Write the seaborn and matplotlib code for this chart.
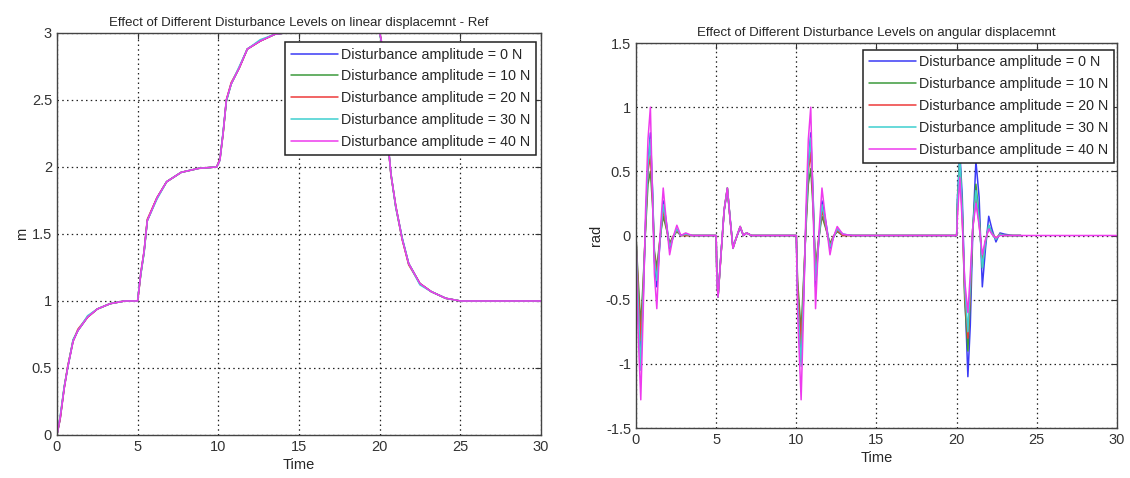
import matplotlib
matplotlib.use("Agg")
import matplotlib.pyplot as plt
import numpy as np
import pandas as pd
import seaborn as sns

# ---- data ----
series_names = [
    "Disturbance amplitude = 0 N",
    "Disturbance amplitude = 10 N",
    "Disturbance amplitude = 20 N",
    "Disturbance amplitude = 30 N",
    "Disturbance amplitude = 40 N",
]
colors = ["#3b3bf5", "#3c9a3c", "#ee3a3a", "#3fd0d0", "#ee3aee"]

# linear displacement (m)
lin_time = [0, 0.2, 0.45, 0.66, 1.0, 1.3, 1.9, 2.5, 3.3, 4.2, 5.0, 5.1, 5.2, 5.4, 5.6,
            6.2, 6.8, 7.7, 8.8, 9.9, 10.1, 10.3, 10.5, 10.8, 11.3, 11.8, 12.6, 13.5, 14.1,
            17.0, 20.0, 20.1, 20.3, 20.5, 20.7, 21.0, 21.4, 21.8, 22.5, 23.2, 24.1, 25.0,
            27.5, 30.0]
lin_0 = [0, 0.12, 0.35, 0.50, 0.70, 0.78, 0.88, 0.94, 0.98, 1.0, 1.0, 1.11, 1.21, 1.37, 1.60,
         1.77, 1.89, 1.96, 1.99, 2.0, 2.06, 2.26, 2.50, 2.62, 2.74, 2.88, 2.94, 2.99, 3.0,
         3.0, 3.0, 2.95, 2.60, 2.21, 1.95, 1.71, 1.47, 1.28, 1.13, 1.07, 1.02, 1.0, 1.0, 1.0]
lin_10 = [0, 0.13, 0.36, 0.50, 0.71, 0.78, 0.88, 0.94, 0.98, 1.0, 1.0, 1.10, 1.20, 1.36, 1.60,
          1.77, 1.89, 1.96, 1.99, 2.0, 2.05, 2.25, 2.49, 2.62, 2.74, 2.88, 2.94, 2.99, 3.0,
          3.0, 3.0, 2.94, 2.60, 2.20, 1.95, 1.70, 1.46, 1.28, 1.13, 1.07, 1.02, 1.0, 1.0, 1.0]
lin_20 = [0, 0.12, 0.35, 0.51, 0.70, 0.79, 0.88, 0.94, 0.98, 1.0, 1.0, 1.10, 1.21, 1.37, 1.61,
          1.77, 1.89, 1.96, 1.99, 2.0, 2.06, 2.25, 2.50, 2.63, 2.74, 2.88, 2.94, 2.99, 3.0,
          3.0, 3.0, 2.95, 2.59, 2.21, 1.94, 1.71, 1.46, 1.27, 1.13, 1.07, 1.02, 1.0, 1.0, 1.0]
lin_30 = [0, 0.14, 0.36, 0.50, 0.71, 0.78, 0.89, 0.94, 0.98, 1.0, 1.0, 1.11, 1.20, 1.36, 1.60,
          1.76, 1.89, 1.96, 1.99, 2.0, 2.05, 2.26, 2.49, 2.62, 2.75, 2.88, 2.95, 2.99, 3.0,
          3.0, 3.0, 2.94, 2.61, 2.20, 1.95, 1.70, 1.47, 1.28, 1.12, 1.07, 1.02, 1.0, 1.0, 1.0]
lin_40 = [0, 0.13, 0.35, 0.50, 0.70, 0.78, 0.88, 0.94, 0.98, 1.0, 1.0, 1.10, 1.21, 1.37, 1.60,
          1.77, 1.89, 1.96, 1.99, 2.0, 2.05, 2.25, 2.50, 2.62, 2.74, 2.88, 2.94, 2.99, 3.0,
          3.0, 3.0, 2.95, 2.60, 2.21, 1.95, 1.71, 1.46, 1.28, 1.13, 1.07, 1.02, 1.0, 1.0, 1.0]

# angular displacement (rad)
ang_time = [0, 0.12, 0.3, 0.45, 0.6, 0.75, 0.9, 1.05, 1.15, 1.3, 1.5, 1.7, 1.9, 2.1, 2.3,
            2.55, 2.8, 3.1, 3.5,
            5.0, 5.05, 5.12, 5.3, 5.5, 5.7, 5.88, 6.05, 6.25, 6.5, 6.7, 6.9, 7.2, 7.6,
            10.0, 10.08, 10.3, 10.45, 10.6, 10.75, 10.9, 11.05, 11.2, 11.4, 11.6, 11.85, 12.1,
            12.3, 12.55, 12.9, 13.5,
            20.0, 20.05, 20.2, 20.35, 20.5, 20.7, 20.85, 21.0, 21.2, 21.4, 21.6, 21.8, 22.0,
            22.2, 22.45, 22.7, 23.0, 23.5, 24.0, 30.0]
ang_0 = [0, -0.40, -0.95, -0.50, 0.10, 0.55, 0.80, 0.30, -0.20, -0.40, -0.05, 0.27, 0.10, -0.10,
         -0.02, 0.05, 0.0, 0.01, 0,
         0, -0.34, -0.47, -0.15, 0.19, 0.36, 0.12, -0.09, -0.02, 0.06, 0.0, 0.02, 0, 0,
         0, -0.45, -0.98, -0.50, 0.10, 0.55, 0.80, 0.30, -0.40, -0.05, 0.27, 0.10, -0.10,
         -0.02, 0.05, 0.01, 0,
         0, 0.30, 0.65, 0.30, -0.40, -1.10, -0.70, 0.0, 0.58, 0.30, -0.40, -0.10, 0.15,
         0.05, -0.05, 0.02, 0.01, 0, 0, np.nan]
ang_10 = [0, -0.30, -0.70, -0.35, 0.05, 0.40, 0.50, 0.20, -0.12, -0.25, -0.02, 0.15, 0.05, -0.06,
          -0.01, 0.03, 0, 0, 0,
          0, -0.35, -0.48, -0.15, 0.20, 0.37, 0.12, -0.10, -0.02, 0.07, 0.0, 0.02, 0, 0,
          0, -0.35, -0.75, -0.35, 0.05, 0.40, 0.52, 0.20, -0.25, -0.02, 0.15, 0.05, -0.06,
          -0.01, 0.03, 0, 0,
          0, 0.25, 0.60, 0.20, -0.50, -0.90, -0.50, 0.05, 0.40, 0.15, -0.25, -0.05, 0.08,
          0.02, -0.03, 0.01, 0, 0, 0, np.nan]
ang_20 = [0, -0.35, -0.82, -0.40, 0.08, 0.50, 0.62, 0.25, -0.15, -0.30, -0.03, 0.20, 0.06, -0.08,
          -0.01, 0.04, 0, 0, 0,
          0, -0.35, -0.48, -0.16, 0.20, 0.37, 0.11, -0.10, -0.02, 0.07, 0.0, 0.02, 0, 0,
          0, -0.40, -0.85, -0.40, 0.08, 0.50, 0.65, 0.25, -0.30, -0.03, 0.20, 0.06, -0.08,
          -0.01, 0.04, 0, 0,
          0, 0.20, 0.55, 0.15, -0.45, -0.80, -0.45, 0.05, 0.30, 0.10, -0.20, -0.04, 0.06,
          0.02, -0.02, 0.01, 0, 0, 0, np.nan]
ang_30 = [0, -0.45, -1.05, -0.45, 0.10, 0.55, 0.75, 0.30, -0.18, -0.35, -0.04, 0.24, 0.08, -0.09,
          -0.02, 0.05, 0, 0.01, 0,
          0, -0.35, -0.48, -0.15, 0.20, 0.37, 0.12, -0.10, -0.02, 0.07, 0.0, 0.02, 0, 0,
          0, -0.48, -1.02, -0.45, 0.10, 0.55, 0.76, 0.30, -0.35, -0.04, 0.24, 0.08, -0.09,
          -0.02, 0.05, 0.01, 0,
          0, 0.25, 0.60, 0.20, -0.40, -0.75, -0.40, 0.05, 0.35, 0.12, -0.25, -0.05, 0.08,
          0.02, -0.03, 0.01, 0, 0, 0, np.nan]
ang_40 = [0, -0.70, -1.28, -0.60, 0.20, 0.75, 1.00, 0.20, -0.30, -0.57, 0.0, 0.37, 0.10, -0.15,
          -0.02, 0.08, 0.0, 0.02, 0.0,
          0, -0.35, -0.48, -0.15, 0.20, 0.37, 0.12, -0.10, -0.02, 0.07, 0.0, 0.02, 0, 0,
          0, -0.60, -1.28, -0.60, 0.20, 0.75, 1.00, 0.20, -0.57, 0.0, 0.37, 0.10, -0.15,
          -0.02, 0.07, 0.01, 0,
          0, 0.15, 0.45, 0.10, -0.35, -0.60, -0.30, 0.05, 0.25, 0.08, -0.15, -0.03, 0.05,
          0.01, -0.02, 0, 0, 0, 0, 0]

lin_values = [lin_0, lin_10, lin_20, lin_30, lin_40]
ang_values = [ang_0, ang_10, ang_20, ang_30, ang_40]


def long_frame(time, values):
    return pd.concat(
        [pd.DataFrame({"Time": time, "y": vals, "series": name})
         for name, vals in zip(series_names, values)],
        ignore_index=True,
    )


sns.set_style("white")
plt.rcParams["font.family"] = ["Liberation Sans", "DejaVu Sans"]
plt.rcParams.update({
    "xtick.direction": "in", "ytick.direction": "in",
    "xtick.top": True, "ytick.right": True,
    "xtick.major.size": 4, "ytick.major.size": 4,
    "xtick.color": "#333333", "ytick.color": "#333333",
    "xtick.labelsize": 10.5, "ytick.labelsize": 10.5,
})

fig = plt.figure(figsize=(11.3, 4.78), dpi=100)
ax_lin = fig.add_axes([0.0504, 0.090, 0.4283, 0.841])
ax_ang = fig.add_axes([0.5628, 0.1046, 0.4257, 0.8054])

palette = dict(zip(series_names, colors))
panels = [
    (ax_lin, long_frame(lin_time, lin_values), (0, 3), np.arange(0, 3.01, 0.5), "m",
     "Effect of Different Disturbance Levels on linear displacemnt - Ref", (0.996, 0.985)),
    (ax_ang, long_frame(ang_time, ang_values), (-1.5, 1.5), np.arange(-1.5, 1.51, 0.5), "rad",
     "Effect of Different Disturbance Levels on angular displacemnt", (1.0, 0.99)),
]

for ax, df, ylim, yticks, ylabel, title, anchor in panels:
    sns.lineplot(data=df, x="Time", y="y", hue="series", palette=palette,
                 estimator=None, sort=False, linewidth=1.1, ax=ax)
    ax.set_xlim(0, 30)
    ax.set_ylim(*ylim)
    ax.set_xticks(np.arange(0, 31, 5))
    ax.set_yticks(yticks)
    ax.set_yticklabels([f"{v:g}" for v in yticks])
    ax.grid(True, color="#222222", linestyle=(0, (1.2, 2.6)), linewidth=0.9)
    for sp in ax.spines.values():
        sp.set_color("#444444")
        sp.set_linewidth(1.0)
    ax.set_xlabel("Time", fontsize=10.5, labelpad=3)
    ax.set_ylabel(ylabel, fontsize=10.5, labelpad=2)
    ax.set_title(title, fontsize=9.5, pad=5)
    leg = ax.legend(loc="upper right", bbox_to_anchor=anchor, borderaxespad=0.2,
                    fontsize=10.3, handlelength=3.3, handletextpad=0.2,
                    labelspacing=0.55, borderpad=0.4,
                    fancybox=False, framealpha=1, edgecolor="#222222")
    leg.get_frame().set_linewidth(1.1)

fig.savefig("out.png", dpi=100)
